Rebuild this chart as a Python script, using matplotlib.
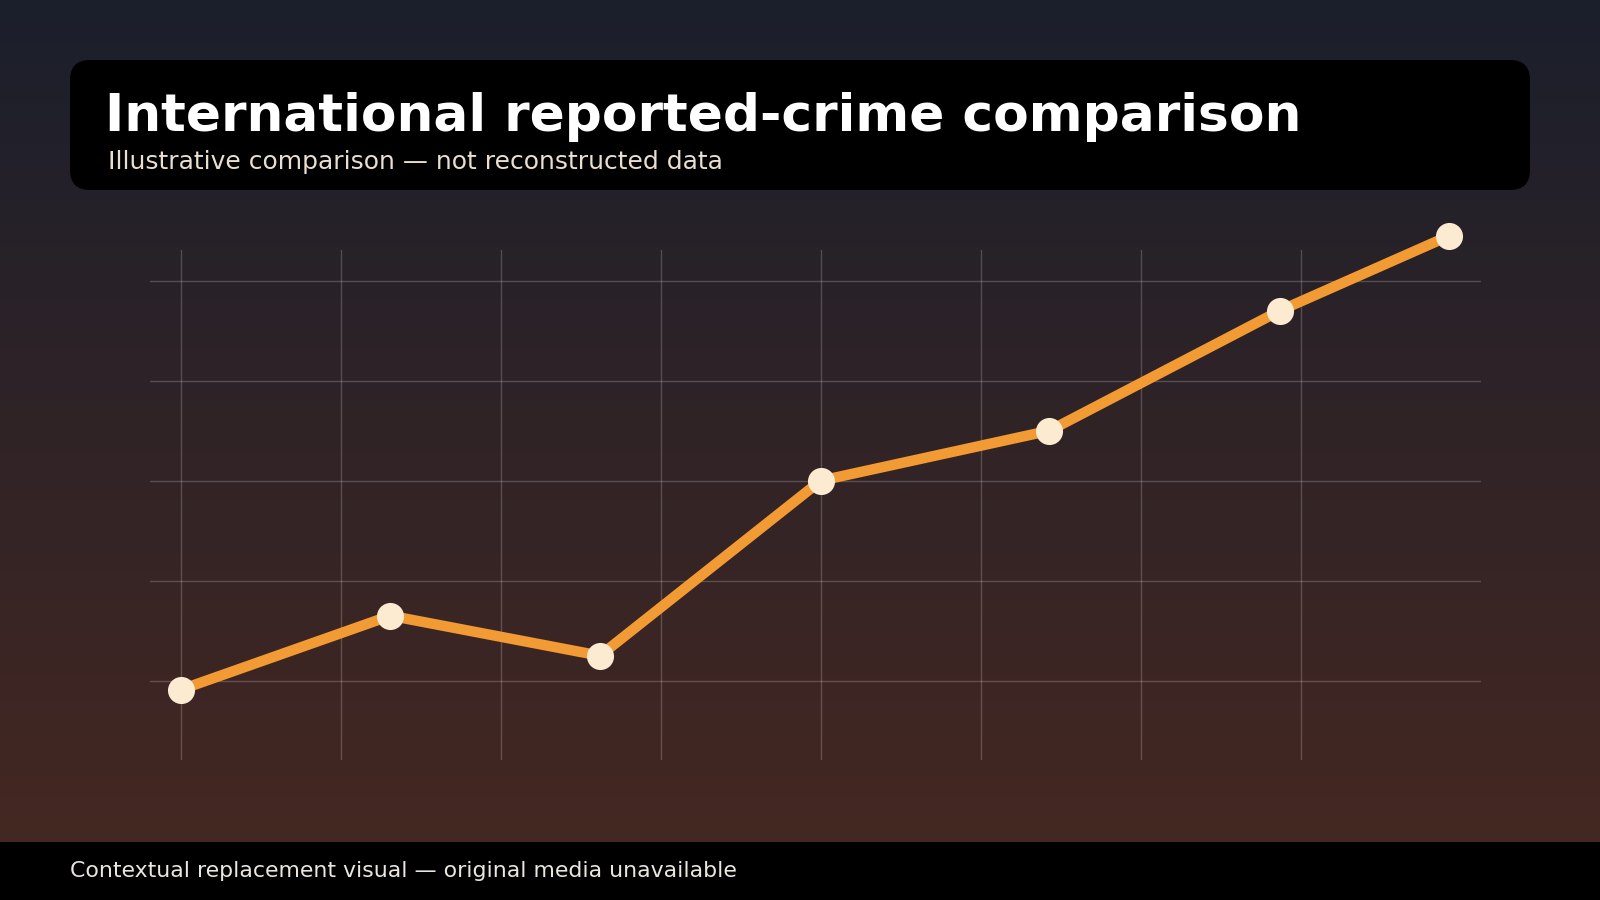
import numpy as np
import matplotlib
matplotlib.use("Agg")
import matplotlib.pyplot as plt
from matplotlib.patches import FancyBboxPatch, Rectangle

# chart text
title = "International reported-crime comparison"
subtitle = "Illustrative comparison \u2014 not reconstructed data"
footer = "Contextual replacement visual \u2014 original media unavailable"

# series (grid units: x gridlines at 0..7, y gridlines at 10..50)
x_vals = [0.0, 1.31, 2.62, 4.0, 5.43, 6.87, 7.93]
y_vals = [9.1, 16.5, 12.5, 30.0, 35.0, 47.0, 54.5]
x_grid = [0, 1, 2, 3, 4, 5, 6, 7]
y_grid = [10, 20, 30, 40, 50]

W, H = 1600, 900
fig = plt.figure(figsize=(16, 9), dpi=100)

# background gradient, drawn in pixel space
bg = fig.add_axes([0, 0, 1, 1])
bg.set_xlim(0, W)
bg.set_ylim(H, 0)
bg.axis("off")
top = np.array([0x1b, 0x1f, 0x2c]) / 255
bot = np.array([0x47, 0x28, 0x21]) / 255
t = np.linspace(0, 1, 256)[:, None]
grad = top + (bot - top) * t
grad = np.repeat(grad[:, None, :], 2, axis=1)
bg.imshow(grad, extent=[0, W, H, 0], aspect="auto", zorder=0)

# header card
card = FancyBboxPatch((90, 80), 1420, 90, boxstyle="round,pad=20,rounding_size=20",
                      facecolor="black", edgecolor="none", zorder=1)
bg.add_patch(card)
bg.text(105, 131, title, color="white", fontsize=37.3, fontweight="bold",
        va="baseline", ha="left", zorder=2)
bg.text(108, 169, subtitle, color="#e9ded0", fontsize=18, va="baseline",
        ha="left", zorder=2)

# footer band
bg.add_patch(Rectangle((0, 842), W, 58, facecolor="black", edgecolor="none", zorder=1))
bg.text(70, 877, footer, color="#ebe6e0", fontsize=15.8, va="baseline",
        ha="left", zorder=2)

# chart
ax = fig.add_axes([150 / W, 1 - 760 / H, (1481 - 150) / W, (760 - 250) / H])
ax.patch.set_alpha(0)
ax.set_xlim(-0.192, 8.127)
ax.set_ylim(2.07, 53.07)
ax.set_xticks(x_grid)
ax.set_yticks(y_grid)
ax.grid(True, color="white", alpha=0.2, lw=1)
ax.tick_params(length=0, labelbottom=False, labelleft=False)
for s in ax.spines.values():
    s.set_visible(False)

ax.plot(x_vals, y_vals, color="#f29a33", lw=7.5, solid_joinstyle="round",
        zorder=3, clip_on=False)
ax.plot(x_vals, y_vals, ls="none", marker="o", ms=19.5, mfc="#fdebd1",
        mec="none", zorder=4, clip_on=False)

fig.savefig("out.png", dpi=100)
